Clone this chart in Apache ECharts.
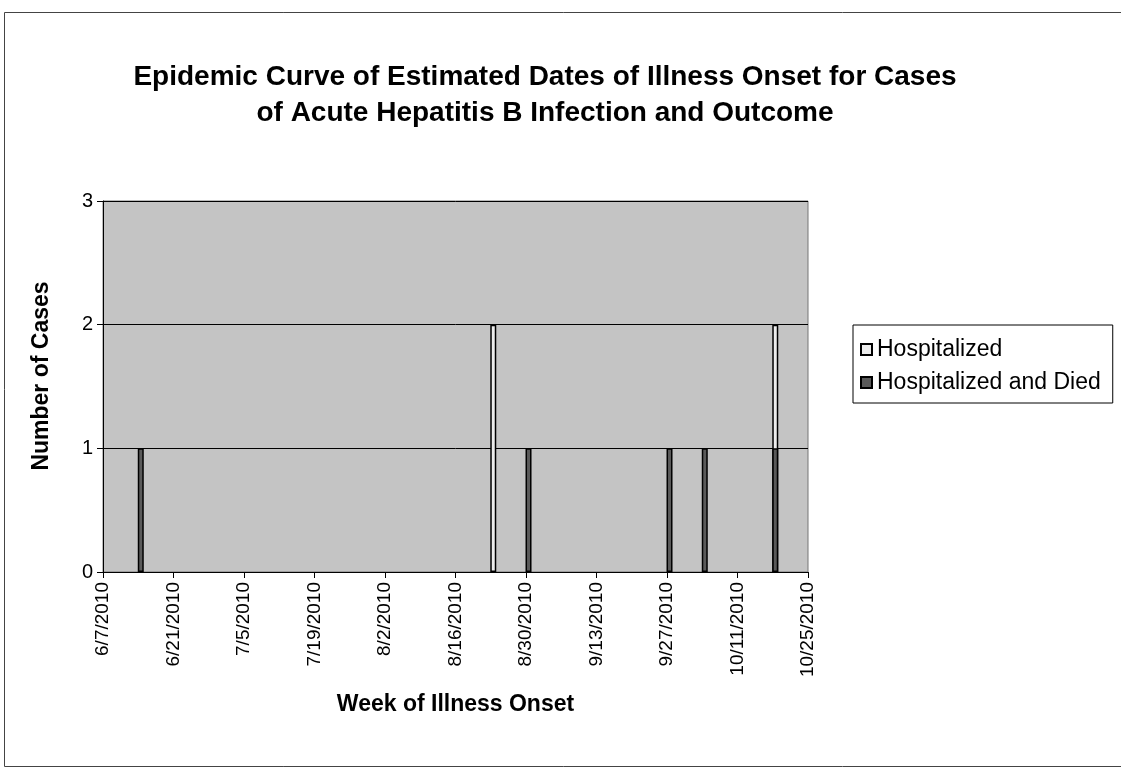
<!DOCTYPE html>
<html>
<head>
<meta charset="utf-8">
<script src="https://cdn.jsdelivr.net/npm/echarts@6/dist/echarts.min.js"></script>
<style>
  html, body { margin: 0; padding: 0; background: #fff; }
  #chart { width: 1121px; height: 771px; }
</style>
</head>
<body>
<div id="chart"></div>
<script>
  // axis range (weeks of onset), labels every 14 days
  const axisStart = '2010-06-07'
  const axisEnd = '2010-10-25'
  const tickDays = 14

  // weeks with cases
  const onsetWeeks = ['2010-06-14', '2010-08-23', '2010-08-30', '2010-09-27', '2010-10-04', '2010-10-18']
  const hospitalized = [0, 2, 0, 0, 0, 1]
  const hospitalizedDied = [1, 0, 1, 1, 1, 1]

  const DAY = 86400000
  const t0 = Date.parse(axisStart)
  const dayOf = (s) => (Date.parse(s) - t0) / DAY
  // bar sits in the middle of its day, like the source chart
  const toPoints = (vals) => onsetWeeks.map((d, i) => [dayOf(d) + 0.5, vals[i] === 0 ? '-' : vals[i]])
  // stacking does not work on a value axis, so the upper part is drawn as the total behind the lower part
  const totals = hospitalized.map((v, i) => v === 0 ? 0 : v + hospitalizedDied[i])
  const fmtDate = (v) => {
    const d = new Date(t0 + v * DAY)
    return (d.getUTCMonth() + 1) + '/' + d.getUTCDate() + '/' + d.getUTCFullYear()
  }

  const font = '"Liberation Sans", Arial, sans-serif'
  const chart = echarts.init(document.getElementById('chart'))

  const options = {
    animation: false,
    backgroundColor: '#fff',
    textStyle: { fontFamily: font, color: '#000' },
    graphic: [
      {
        type: 'rect',
        silent: true,
        shape: { x: 4.5, y: 12.5, width: 1130, height: 754 },
        style: { fill: 'none', stroke: '#444', lineWidth: 1 }
      },
      {
        type: 'text',
        x: 545,
        y: 59,
        style: {
          text: 'Epidemic Curve of Estimated Dates of Illness Onset for Cases\nof Acute Hepatitis B Infection and Outcome',
          font: 'bold 28px ' + font,
          fill: '#000',
          align: 'center',
          verticalAlign: 'top',
          lineHeight: 36
        }
      },
      {
        type: 'text',
        x: 42,
        y: 376,
        rotation: Math.PI / 2,
        style: {
          text: 'Number of Cases',
          font: 'bold 23px ' + font,
          fill: '#000',
          align: 'center',
          verticalAlign: 'middle'
        }
      }
    ],
    legend: {
      orient: 'vertical',
      left: 853,
      top: 325,
      padding: [13, 12, 9, 7],
      itemGap: 10,
      itemWidth: 11,
      itemHeight: 11,
      icon: 'rect',
      borderColor: '#000',
      borderWidth: 1,
      backgroundColor: '#fff',
      data: ['Hospitalized', 'Hospitalized and Died'],
      textStyle: { fontSize: 23, color: '#000', fontFamily: font }
    },
    grid: {
      left: 103,
      right: 313,
      top: 201,
      bottom: 199,
      show: true,
      backgroundColor: '#c4c4c4',
      borderColor: '#777',
      borderWidth: 1
    },
    xAxis: {
      type: 'value',
      min: dayOf(axisStart),
      max: dayOf(axisEnd),
      interval: tickDays,
      name: 'Week of Illness Onset',
      nameLocation: 'middle',
      nameGap: 121,
      nameTextStyle: { fontSize: 23, fontWeight: 'bold', color: '#000' },
      axisLine: { lineStyle: { color: '#000', width: 1 } },
      axisTick: { show: true, inside: false, length: 6, lineStyle: { color: '#000' } },
      splitLine: { show: false },
      axisLabel: {
        rotate: 90,
        fontSize: 19,
        color: '#000',
        margin: 10,
        formatter: fmtDate
      }
    },
    yAxis: {
      type: 'value',
      min: 0,
      max: 3,
      interval: 1,
      axisLine: { show: true, lineStyle: { color: '#000', width: 1 } },
      axisTick: { show: true, inside: false, length: 6, lineStyle: { color: '#000' } },
      splitLine: { show: true, lineStyle: { color: '#000', width: 1 } },
      axisLabel: { fontSize: 20, color: '#000', margin: 10 }
    },
    series: [
      {
        name: 'Hospitalized',
        type: 'bar',
        barWidth: 6,
        barGap: '-100%',
        data: toPoints(totals),
        itemStyle: { color: '#ececec', borderColor: '#000', borderWidth: 1.5 }
      },
      {
        name: 'Hospitalized and Died',
        type: 'bar',
        barWidth: 6,
        barGap: '-100%',
        data: toPoints(hospitalizedDied),
        itemStyle: { color: '#5a5a5a', borderColor: '#000', borderWidth: 1.5 }
      }
    ]
  }

  chart.setOption(options)
</script>
</body>
</html>
